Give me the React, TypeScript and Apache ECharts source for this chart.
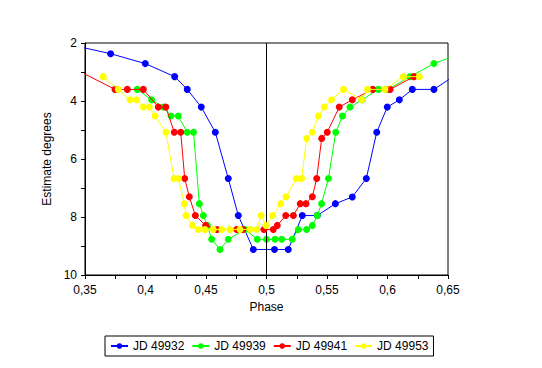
import React, { useEffect, useRef } from "react";
import * as echarts from "echarts";

const seriesNames = ["JD 49932", "JD 49939", "JD 49941", "JD 49953"];
const seriesColors = ["#0000FF", "#00FF00", "#FF0000", "#FFFF00"];

const jd49932: number[][] = [
  [0.34, 2.08], [0.3712, 2.37], [0.3998, 2.71], [0.4241, 3.16], [0.4345, 3.6],
  [0.4461, 4.21], [0.4577, 5.08], [0.4684, 6.67], [0.4767, 7.95], [0.4891, 9.12],
  [0.5066, 9.12], [0.518, 9.12], [0.5296, 7.95], [0.542, 7.95], [0.5569, 7.54],
  [0.5709, 7.31], [0.5825, 6.67], [0.5911, 5.08], [0.5998, 4.21], [0.6098, 3.96],
  [0.6205, 3.6], [0.6384, 3.6], [0.66, 3.0],
];

const jd49939: number[][] = [
  [0.3932, 3.6], [0.4051, 3.96], [0.4147, 4.21], [0.4211, 4.52], [0.4271, 4.52],
  [0.4345, 5.08], [0.4397, 5.08], [0.4445, 7.54], [0.4478, 7.95], [0.4512, 8.29],
  [0.4547, 8.77], [0.4616, 9.12], [0.4684, 8.77], [0.4822, 8.43], [0.4924, 8.77],
  [0.5, 8.77], [0.507, 8.77], [0.5126, 8.77], [0.5213, 8.77], [0.5263, 8.43],
  [0.5332, 8.43], [0.5379, 8.29], [0.542, 7.95], [0.5455, 7.54], [0.5512, 6.67],
  [0.5572, 5.08], [0.5628, 4.52], [0.569, 4.21], [0.5789, 3.96], [0.5924, 3.6],
  [0.6004, 3.6], [0.6186, 3.16], [0.6384, 2.71], [0.66, 2.37],
];

const jd49941: number[][] = [
  [0.34, 2.86], [0.3748, 3.6], [0.385, 3.6], [0.3982, 3.6], [0.4106, 4.21],
  [0.4168, 4.21], [0.4238, 5.08], [0.4291, 5.08], [0.4324, 6.67], [0.4362, 7.3],
  [0.4412, 7.95], [0.4497, 8.29], [0.4591, 8.43], [0.4754, 8.43], [0.4806, 8.43],
  [0.4979, 8.43], [0.5056, 8.43], [0.5089, 8.29], [0.5159, 7.95], [0.5222, 7.95],
  [0.5279, 7.54], [0.5326, 7.54], [0.5379, 7.3], [0.5415, 6.67], [0.5456, 5.29],
  [0.5502, 5.08], [0.5601, 4.21], [0.5709, 3.96], [0.5878, 3.6], [0.6021, 3.6],
  [0.6219, 3.16],
];

const jd49953: number[][] = [
  [0.3651, 3.16], [0.3775, 3.6], [0.3872, 3.96], [0.3927, 3.96], [0.3982, 4.21],
  [0.4031, 4.21], [0.4079, 4.52], [0.4169, 5.08], [0.4236, 6.67], [0.4271, 6.67],
  [0.4321, 7.54], [0.4335, 7.95], [0.4388, 8.29], [0.4436, 8.43], [0.4492, 8.43],
  [0.456, 8.43], [0.463, 8.43], [0.4698, 8.43], [0.4781, 8.43], [0.4864, 8.43],
  [0.4919, 8.43], [0.4955, 7.95], [0.4996, 8.29], [0.5051, 7.95], [0.5117, 7.54],
  [0.5161, 7.3], [0.5248, 6.67], [0.5291, 6.67], [0.5332, 5.29], [0.5379, 5.08],
  [0.5428, 4.52], [0.5478, 4.21], [0.5537, 3.96], [0.5636, 3.6], [0.5787, 3.96],
  [0.5835, 3.6], [0.5979, 3.6], [0.6131, 3.16], [0.6263, 3.16],
];

const seriesData = [jd49932, jd49939, jd49941, jd49953];

const xMin = 0.35;
const xMax = 0.65;
const xStep = 0.05;
const yMin = 2;
const yMax = 10;
const yStep = 2;
const markX = 0.5;

const FONT = "Arial, 'Liberation Sans', sans-serif";

export default function App() {
  const ref = useRef<HTMLDivElement>(null);

  useEffect(() => {
    if (!ref.current) return;
    const chart = echarts.init(ref.current, undefined, { renderer: "svg" });
    const fmt = (v: number) => String(parseFloat(v.toFixed(3))).replace(".", ",");
    chart.setOption({
      animation: false,
      backgroundColor: "#FFFFFF",
      textStyle: { fontFamily: FONT, color: "#000" },
      grid: {
        left: 85,
        right: 94,
        top: 43,
        bottom: 93,
        show: true,
        borderColor: "#000",
        borderWidth: 1,
        containLabel: false,
      },
      xAxis: {
        type: "value",
        min: xMin,
        max: xMax,
        interval: xStep,
        name: "Phase",
        nameLocation: "middle",
        nameGap: 24,
        nameTextStyle: { fontFamily: FONT, fontSize: 12, color: "#000" },
        axisLine: { show: true, lineStyle: { color: "#000", width: 1 } },
        axisTick: { show: true, inside: false, length: 4, lineStyle: { color: "#000" } },
        minorTick: { show: true, splitNumber: 2, length: 4, lineStyle: { color: "#000" } },
        splitLine: { show: false },
        axisLabel: {
          fontFamily: FONT,
          fontSize: 12,
          color: "#000",
          margin: 9,
          formatter: fmt,
        },
      },
      yAxis: {
        type: "value",
        inverse: true,
        min: yMin,
        max: yMax,
        interval: yStep,
        name: "Estimate degrees",
        nameLocation: "middle",
        nameGap: 30,
        nameRotate: 90,
        nameTextStyle: { fontFamily: FONT, fontSize: 12, color: "#000" },
        axisLine: { show: true, lineStyle: { color: "#000", width: 1 } },
        axisTick: { show: true, inside: false, length: 4, lineStyle: { color: "#000" } },
        minorTick: { show: true, splitNumber: 2, length: 4, lineStyle: { color: "#000" } },
        splitLine: { show: false },
        axisLabel: {
          fontFamily: FONT,
          fontSize: 12,
          color: "#000",
          margin: 8,
        },
      },
      legend: {
        left: 105,
        top: 336,
        orient: "horizontal",
        itemWidth: 17,
        itemHeight: 7,
        itemGap: 7,
        padding: [4, 5],
        borderColor: "#000",
        borderWidth: 1,
        textStyle: { fontFamily: FONT, fontSize: 12, color: "#000", padding: [0, 0, 0, 0] },
        data: seriesNames,
      },
      series: seriesData.map((d, i) => ({
        name: seriesNames[i],
        type: "line",
        data: d,
        clip: true,
        symbol: "circle",
        symbolSize: 7,
        showSymbol: true,
        lineStyle: { color: seriesColors[i], width: 1 },
        itemStyle: { color: seriesColors[i] },
        z: 3 + i,
        markLine:
          i === 0
            ? {
                silent: true,
                symbol: ["none", "none"],
                label: { show: false },
                lineStyle: { color: "#000", type: "solid", width: 1 },
                data: [{ xAxis: markX }],
              }
            : undefined,
      })),
    });
    return () => chart.dispose();
  }, []);

  return (
    <div
      ref={ref}
      style={{ position: "fixed", left: 0, top: 0, width: 542, height: 368 }}
    />
  );
}
